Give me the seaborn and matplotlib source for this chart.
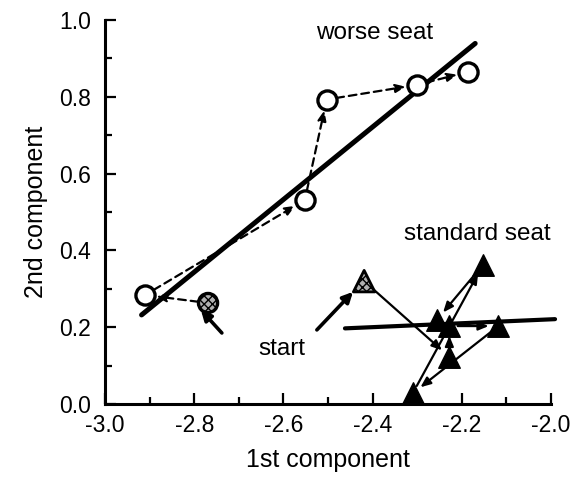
import matplotlib
matplotlib.use("Agg")
import matplotlib.pyplot as plt
import seaborn as sns
import pandas as pd

# ---- data ----
worse_x = [-2.769, -2.910, -2.552, -2.503, -2.301, -2.186]
worse_y = [0.263, 0.284, 0.531, 0.793, 0.831, 0.865]
std_x = [-2.419, -2.228, -2.228, -2.118, -2.310, -2.153, -2.256]
std_y = [0.320, 0.123, 0.203, 0.203, 0.028, 0.362, 0.219]
worse_fit_x = [-2.918, -2.170]
worse_fit_y = [0.232, 0.939]
std_fit_x = [-2.462, -1.991]
std_fit_y = [0.197, 0.221]
x_ticks = [-3.0, -2.8, -2.6, -2.4, -2.2, -2.0]
y_ticks = [0.0, 0.2, 0.4, 0.6, 0.8, 1.0]

sns.set_style("ticks")
plt.rcParams['font.family'] = ['Liberation Sans', 'DejaVu Sans']
plt.rcParams['text.color'] = 'black'
plt.rcParams['axes.labelcolor'] = 'black'
plt.rcParams['xtick.color'] = 'black'
plt.rcParams['ytick.color'] = 'black'

fig = plt.figure(figsize=(5.75, 4.86), dpi=100)
ax = fig.add_axes([0.1826, 0.1687, 0.9583 - 0.1826, 0.9588 - 0.1687])

# regression lines
sns.lineplot(x=worse_fit_x, y=worse_fit_y, ax=ax, color='black', lw=3.6, zorder=2)
sns.lineplot(x=std_fit_x, y=std_fit_y, ax=ax, color='black', lw=3.0, zorder=2,
             clip_on=False)

# dashed trajectory (worse seat)
for i in range(len(worse_x) - 1):
    ax.annotate('', xy=(worse_x[i + 1], worse_y[i + 1]), xytext=(worse_x[i], worse_y[i]),
                arrowprops=dict(arrowstyle='-|>,head_length=0.6,head_width=0.25',
                                lw=1.6, color='black', linestyle=(0, (3.5, 2.2)),
                                shrinkA=7, shrinkB=8), zorder=3)

# solid trajectory (standard seat)
for i in range(len(std_x) - 1):
    ax.annotate('', xy=(std_x[i + 1], std_y[i + 1]), xytext=(std_x[i], std_y[i]),
                arrowprops=dict(arrowstyle='-|>,head_length=0.6,head_width=0.25',
                                lw=1.6, color='black',
                                shrinkA=6, shrinkB=7), zorder=3)

# markers
dw = pd.DataFrame({'x': worse_x[1:], 'y': worse_y[1:]})
sns.scatterplot(data=dw, x='x', y='y', ax=ax, marker='o', s=190,
                facecolor='white', edgecolor='black', linewidth=2.4, zorder=5)
ax.scatter([worse_x[0]], [worse_y[0]], marker='o', s=190, facecolor='#b0b0b0',
           edgecolor='black', linewidth=2.4, zorder=5, hatch='xxxx')
ds = pd.DataFrame({'x': std_x[1:], 'y': std_y[1:]})
sns.scatterplot(data=ds, x='x', y='y', ax=ax, marker='^', s=240,
                color='black', edgecolor='black', linewidth=1, zorder=5, clip_on=False)
ax.scatter([std_x[0]], [std_y[0]], marker='^', s=240, facecolor='#b0b0b0',
           edgecolor='black', linewidth=2.0, zorder=5, hatch='xxxx')

# labels / annotations
ax.text(-2.395, 0.966, 'worse seat', fontsize=17.5, ha='center', va='center')
ax.text(-2.166, 0.443, 'standard seat', fontsize=17.5, ha='center', va='center')
ax.text(-2.603, 0.143, 'start', fontsize=17.5, ha='center', va='center')
ax.annotate('', xy=(-2.785, 0.245), xytext=(-2.738, 0.185),
            arrowprops=dict(arrowstyle='-|>,head_length=0.6,head_width=0.3',
                            lw=2.6, color='black', shrinkA=0, shrinkB=0))
ax.annotate('', xy=(-2.444, 0.292), xytext=(-2.525, 0.193),
            arrowprops=dict(arrowstyle='-|>,head_length=0.6,head_width=0.3',
                            lw=2.6, color='black', shrinkA=0, shrinkB=0))

ax.set_xlim(-3.0, -2.0)
ax.set_ylim(0.0, 1.0)
ax.set_xticks(x_ticks)
ax.set_yticks(y_ticks)
ax.set_xticklabels([f'{v:.1f}' for v in x_ticks])
ax.set_yticklabels([f'{v:.1f}' for v in y_ticks])
ax.set_xticks([-2.9, -2.7, -2.5, -2.3, -2.1], minor=True)
ax.set_yticks([0.1, 0.3, 0.5, 0.7, 0.9], minor=True)
ax.tick_params(which='major', direction='in', length=8, width=1.6, labelsize=16.5,
               color='black', labelcolor='black')
ax.tick_params(which='minor', direction='in', length=5, width=1.6, color='black')
ax.tick_params(axis='x', which='major', pad=7)
ax.tick_params(axis='y', which='major', pad=10)
ax.set_xlabel('1st component', fontsize=18, labelpad=8, color='black')
ax.set_ylabel('2nd component', fontsize=18, labelpad=8, color='black')
sns.despine(ax=ax)
for s in ['left', 'bottom']:
    ax.spines[s].set_linewidth(2.2)
    ax.spines[s].set_color('black')

fig.savefig('out.png', dpi=100)
